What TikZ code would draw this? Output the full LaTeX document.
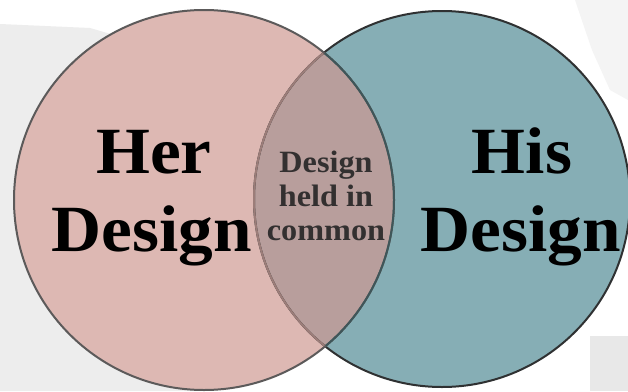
\documentclass[tikz,border=0pt]{standalone}
\usepackage{fontspec}
\setmainfont{Liberation Serif}
\begin{document}
\begin{tikzpicture}[x=1pt,y=-1pt,
  bigtext/.style={font=\fontsize{66}{66}\selectfont\bfseries, text=black, inner sep=0pt, anchor=base, xscale=1.05},
  smalltext/.style={font=\fontsize{31}{31}\selectfont\bfseries, text=midtext, inner sep=0pt, anchor=base, xscale=1.04}]
\definecolor{pinkfill}{HTML}{DDB8B3}
\definecolor{tealfill}{HTML}{86AEB5}
\definecolor{interfill}{HTML}{B89E9C}
\definecolor{leftedge}{HTML}{5C5A5A}
\definecolor{rightedge}{HTML}{2F3132}
\definecolor{lensleft}{HTML}{9C7D79}
\definecolor{lensright}{HTML}{3F5659}
\definecolor{midtext}{HTML}{333030}
\definecolor{bggray}{HTML}{E8E8E8}
\useasboundingbox (0,0) rectangle (628,391);
\fill[white] (0,0) rectangle (628,391);
% faint background shapes
\fill[bggray!80] (0,24) -- (90,28) -- (200,60) -- (200,391) -- (145,391) -- (0,391) -- cycle;
\fill[bggray!50] (575,0) -- (628,0) -- (628,100) -- (610,90) -- (592,50) -- cycle;
\fill[bggray] (590,336) rectangle (628,391);
% circles
\coordinate (L) at (204,200);
\coordinate (R) at (442,199);
\fill[tealfill] (R) circle (188);
\fill[pinkfill] (L) circle (190);
\begin{scope}
  \clip (L) circle (190);
  \fill[interfill] (R) circle (188);
\end{scope}
\draw[rightedge, line width=2pt] (R) circle (188);
\draw[leftedge, line width=2pt] (L) circle (190);
\begin{scope}
  \clip (L) circle (189);
  \draw[lensleft, line width=2pt] (R) circle (188);
\end{scope}
\begin{scope}
  \clip (R) circle (187);
  \draw[lensright, line width=2pt] (L) circle (190);
\end{scope}
% texts
\node[bigtext] (her) at (154,173) {Her};
\node[bigtext] (herd) at (152,251) {Design};
\node[bigtext] (his) at (522,173) {His};
\node[bigtext] (hisd) at (521,251) {Design};
\node[smalltext] (m1) at (326,172) {Design};
\node[smalltext] (m2) at (326,206) {held in};
\node[smalltext] (m3) at (326,240) {common};
\end{tikzpicture}
\end{document}
